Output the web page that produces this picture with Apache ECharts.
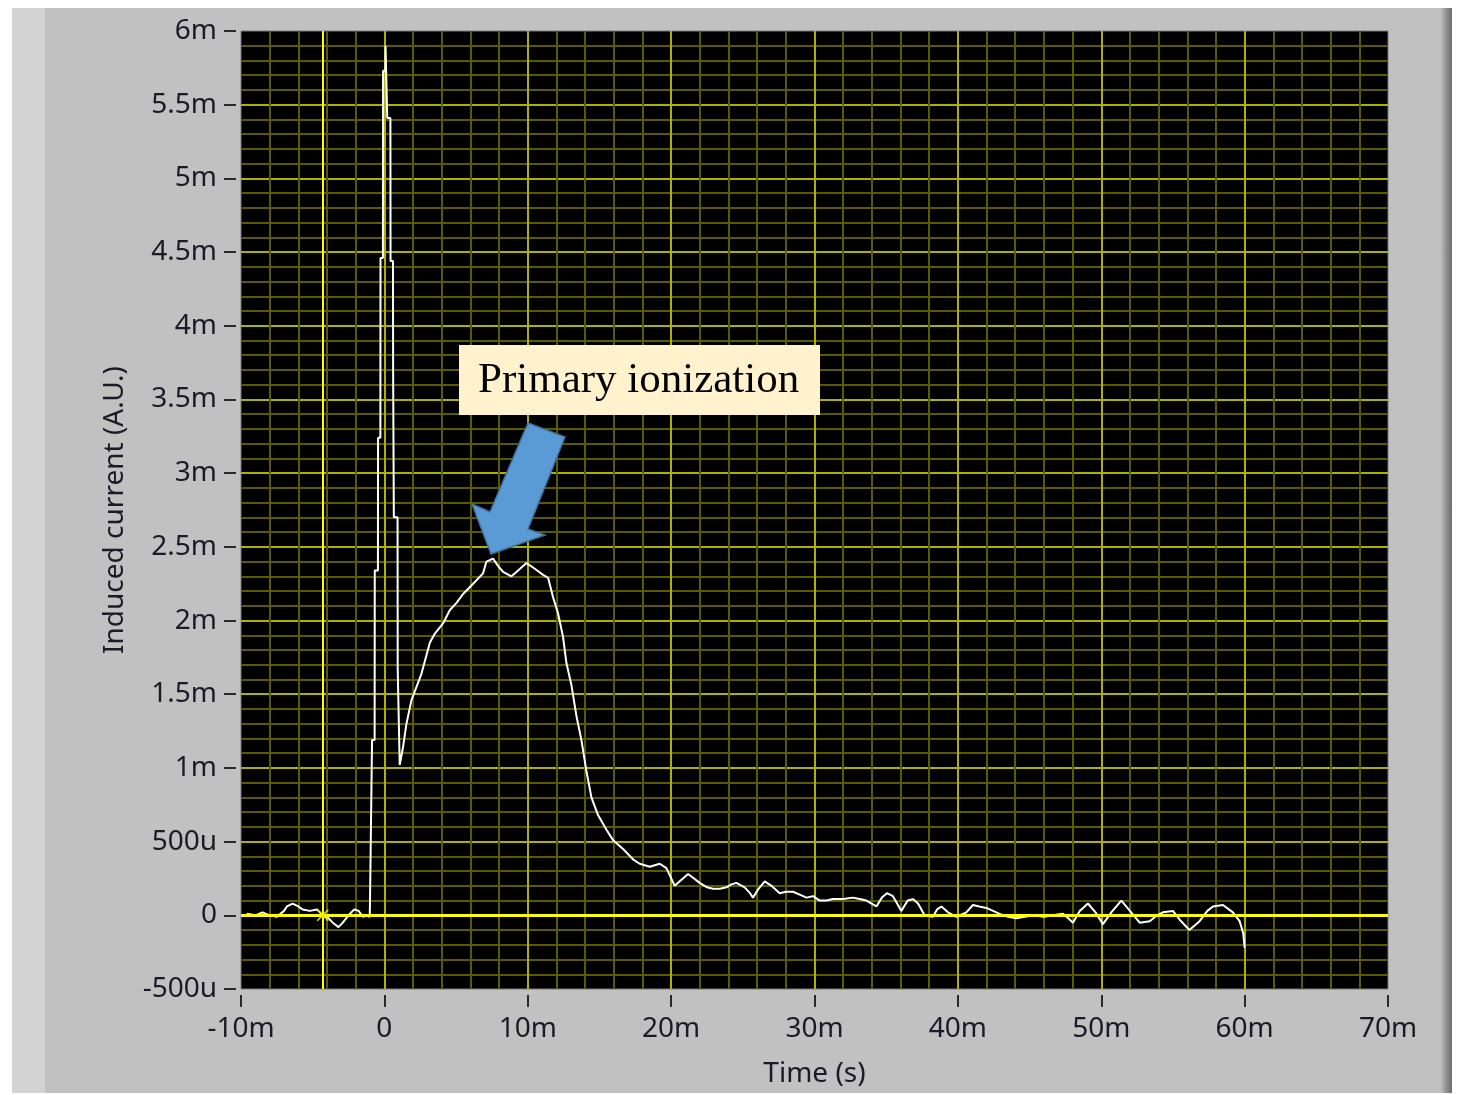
<!DOCTYPE html>
<html>
<head>
<meta charset="utf-8">
<script src="https://cdn.jsdelivr.net/npm/echarts@6/dist/echarts.min.js"></script>
<style>
  html, body { margin: 0; padding: 0; background: #fff; }
  #wrap { position: relative; width: 1462px; height: 1095px; overflow: hidden; }
  #panel { position: absolute; left: 12px; top: 8px; width: 1438px; height: 1085px; background: #c1c1c1; }
  #band { position: absolute; left: 12px; top: 8px; width: 33px; height: 1085px; background: #d3d3d3; }
  #shadow { position: absolute; left: 1440px; top: 8px; width: 12px; height: 1085px;
            background: linear-gradient(to right, #c1c1c1, #8a8a8a 60%, #6e6e6e); }
  #chart { position: absolute; left: 0; top: 0; width: 1462px; height: 1095px; }
</style>
</head>
<body>
<div id="wrap">
  <div id="panel"></div>
  <div id="band"></div>
  <div id="shadow"></div>
  <div id="chart"></div>
</div>
<script>
// time in ms, induced current in mA (A.U.)
const timeMs = [
  -9.6, -9.0, -8.5, -8.0, -7.5, -7.0, -6.8, -6.4, -6.0, -5.7, -5.2, -4.7, -4.3, -4.0, -3.6, -3.2, -2.9, -2.5, -2.1, -1.8, -1.5, -1.2, -1.02,
  -1.0, -0.87, -0.86, -0.68, -0.67, -0.45, -0.44, -0.28, -0.27, -0.1, -0.09, 0.07, 0.08, 0.18, 0.2, 0.42, 0.43, 0.6, 0.61, 0.65, 0.66, 0.92, 0.93, 1.07,
  1.3, 1.54, 1.89, 2.24, 2.59, 3.17, 3.51, 4.09, 4.56, 5.03, 5.49, 6.19, 6.88, 7.12, 7.58, 7.93, 8.28, 8.86, 9.21, 9.91, 10.37, 11.07, 11.42,
  11.76, 12.11, 12.46, 12.7, 13.05, 13.4, 13.74, 14.09, 14.44, 14.9, 15.49, 15.95, 16.65, 17.34, 17.81, 18.51, 19.21, 19.67,
  20.25, 20.7, 21.18, 21.6, 21.99, 22.5, 22.92, 23.4, 23.86, 24.2, 24.55, 25.13, 25.5, 25.71, 26.1, 26.53, 27.0, 27.57, 28.0, 28.5, 28.97, 29.44, 29.9,
  30.36, 30.83, 31.29, 32.0, 32.68, 33.15, 33.62, 34.32, 34.7, 35.05, 35.47, 36.06, 36.5, 36.87, 37.22, 37.68, 38.26, 38.55, 38.85, 39.31, 39.9,
  40.59, 41.05, 41.5, 41.99, 42.91, 43.5, 44.08, 45.24, 46.0, 46.63, 47.33, 47.7, 48.03, 48.5, 49.07, 49.6, 50.12, 50.7, 51.4, 52.0, 52.68,
  53.38, 53.9, 54.3, 55.0, 55.47, 56.15, 56.86, 57.4, 57.79, 58.49, 59.18, 59.65, 59.9, 60.0
];
const currentMA = [
  0.01, 0.0, 0.02, 0.0, -0.01, 0.03, 0.06, 0.08, 0.06, 0.04, 0.03, 0.04, 0.0, -0.01, -0.05, -0.08, -0.05, 0.0, 0.04, 0.03, -0.01, 0.0, -0.01,
  0.11, 0.11, 1.19, 1.19, 2.34, 2.34, 3.24, 3.24, 4.46, 4.46, 5.73, 5.73, 5.9, 5.9, 5.41, 5.41, 4.44, 4.44, 3.7, 3.7, 2.7, 2.7, 1.67, 1.02,
  1.14, 1.3, 1.46, 1.55, 1.64, 1.85, 1.91, 1.98, 2.07, 2.12, 2.18, 2.25, 2.32, 2.4, 2.42, 2.37, 2.33, 2.3, 2.33, 2.39, 2.36, 2.31, 2.29,
  2.16, 2.05, 1.89, 1.71, 1.56, 1.35, 1.19, 0.98, 0.8, 0.68, 0.58, 0.51, 0.45, 0.38, 0.35, 0.33, 0.35, 0.32,
  0.2, 0.24, 0.28, 0.25, 0.22, 0.19, 0.18, 0.18, 0.19, 0.21, 0.22, 0.19, 0.15, 0.12, 0.18, 0.23, 0.2, 0.15, 0.16, 0.16, 0.14, 0.12, 0.13,
  0.1, 0.1, 0.11, 0.11, 0.12, 0.11, 0.1, 0.06, 0.12, 0.15, 0.13, 0.03, 0.1, 0.11, 0.08, 0.0, -0.01, 0.04, 0.06, 0.02, -0.01,
  0.02, 0.07, 0.06, 0.05, 0.01, -0.01, -0.02, 0.0, -0.01, 0.0, 0.01, -0.02, -0.05, 0.03, 0.08, 0.02, -0.06, 0.02, 0.1, 0.03, -0.05,
  -0.04, 0.0, 0.02, 0.03, -0.03, -0.1, -0.04, 0.03, 0.06, 0.07, 0.02, -0.04, -0.12, -0.22
];
const xRange = [-10, 70];
const yRange = [-0.5, 6];
const cursorTime = -4.3;
const cursorLevel = 0;
const annotationText = 'Primary ionization';

const seriesData = timeMs.map((t, i) => [t, currentMA[i]]);

function fmtX(v) {
  return v === 0 ? '0' : v + 'm';
}
function fmtY(v) {
  const r = Math.round(v * 1000) / 1000;
  if (r === 0) return '0';
  if (Math.abs(r) < 1) return Math.round(r * 1000) + 'u';
  return r + 'm';
}

const chart = echarts.init(document.getElementById('chart'), null, { renderer: 'canvas' });

const labelFont = { fontFamily: 'Noto Sans', fontSize: 28, color: '#1a1a28' };
const tickStyle = { show: true, length: 12, lineStyle: { color: '#2a2a2a', width: 2 } };
const hiddenLine = { show: true, onZero: false, lineStyle: { color: 'rgba(0,0,0,0)', width: 0 } };

chart.setOption({
  animation: false,
  backgroundColor: 'transparent',
  grid: {
    left: 241, top: 31, right: 74, bottom: 106,
    show: true, backgroundColor: '#000000', borderColor: '#7a7a7a', borderWidth: 1
  },
  xAxis: {
    type: 'value',
    min: xRange[0], max: xRange[1], interval: 10,
    offset: 6,
    axisLine: hiddenLine,
    axisTick: tickStyle,
    axisLabel: Object.assign({ margin: 20, formatter: fmtX }, labelFont),
    splitLine: { show: true, showMinLine: false, showMaxLine: false, lineStyle: { color: '#b0b000', width: 2 } },
    minorSplitLine: { show: true, lineStyle: { color: '#5a5a00', width: 2 } },
    minorTick: { show: false, splitNumber: 5 },
    name: 'Time (s)',
    nameLocation: 'middle',
    nameGap: 65,
    nameTextStyle: labelFont
  },
  yAxis: {
    type: 'value',
    min: yRange[0], max: yRange[1], interval: 0.5,
    offset: 5,
    axisLine: hiddenLine,
    axisTick: tickStyle,
    axisLabel: Object.assign({ margin: 19, formatter: fmtY }, labelFont),
    splitLine: { show: true, showMinLine: false, showMaxLine: false, lineStyle: { color: '#b0b000', width: 2 } },
    minorSplitLine: { show: true, lineStyle: { color: '#5a5a00', width: 2 } },
    minorTick: { show: false, splitNumber: 5 },
    name: 'Induced current (A.U.)',
    nameLocation: 'middle',
    nameGap: 107,
    nameTextStyle: labelFont
  },
  series: [{
    type: 'line',
    data: seriesData,
    showSymbol: false,
    lineStyle: { color: '#ffffff', width: 2 },
    z: 3,
    markLine: {
      silent: true,
      symbol: 'none',
      label: { show: false },
      lineStyle: { color: '#ffff00', type: 'solid' },
      data: [
        { xAxis: cursorTime, lineStyle: { width: 2 } },
        { yAxis: cursorLevel, lineStyle: { width: 3 } }
      ]
    },
    markPoint: {
      silent: true,
      symbol: 'path://M0,0L10,10M10,0L0,10',
      symbolSize: 11,
      label: { show: false },
      itemStyle: { color: 'none', borderColor: '#e8e800', borderWidth: 1.5 },
      data: [{ coord: [cursorTime, cursorLevel] }]
    }
  }],
  graphic: [
    { type: 'rect', z: 100, shape: { x: 459, y: 345, width: 361, height: 70 }, style: { fill: '#fff2cc' } },
    {
      type: 'text', z: 101, x: 478, y: 381,
      style: {
        text: annotationText, fill: '#000000',
        font: '43px "Liberation Serif", "Times New Roman", serif',
        textVerticalAlign: 'middle', textAlign: 'left'
      }
    },
    {
      type: 'polygon', z: 100,
      shape: { points: [[528, 423], [565, 437], [528, 529], [545, 535], [491, 554], [472, 504], [490, 512]] },
      style: { fill: '#5b9bd5', stroke: '#41719c', lineWidth: 1.5 }
    }
  ]
});
</script>
</body>
</html>
